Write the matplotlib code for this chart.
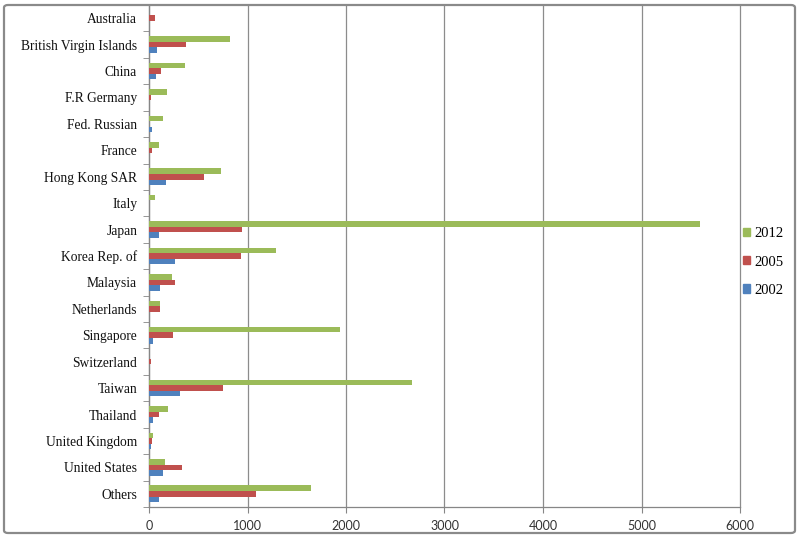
import matplotlib
matplotlib.use("Agg")
import matplotlib.pyplot as plt
import numpy as np
from matplotlib.patches import FancyBboxPatch, Patch
from matplotlib.ticker import FixedLocator

categories = ["Australia", "British Virgin Islands", "China", "F.R Germany",
              "Fed. Russian", "France", "Hong Kong SAR", "Italy", "Japan",
              "Korea Rep. of", "Malaysia", "Netherlands", "Singapore",
              "Switzerland", "Taiwan", "Thailand", "United Kingdom",
              "United States", "Others"]
v2002 = [0, 81, 71, 0, 30, 0, 176, 0, 105, 268, 112, 0, 41, 0, 312, 41, 20, 139, 98]
v2005 = [60, 376, 119, 20, 0, 30, 556, 0, 946, 929, 264, 113, 244, 24, 756, 105, 27, 336, 1085]
v2012 = [5, 824, 369, 187, 142, 105, 732, 61, 5595, 1289, 234, 113, 1943, 5, 2665, 196, 37, 163, 1645]
series_labels = ["2012", "2005", "2002"]
xticks = [0, 1000, 2000, 3000, 4000, 5000, 6000]

c2012 = "#9BBB59"
c2005 = "#C0504D"
c2002 = "#4F81BD"

fig = plt.figure(figsize=(8, 5.37), dpi=100)
ax = fig.add_axes([149/800, 1 - 507/537, 591/800, 502/537])

y = np.arange(len(categories))
h = 0.21
ax.barh(y - h, v2012, height=h, color=c2012, zorder=3)
ax.barh(y, v2005, height=h, color=c2005, zorder=3)
ax.barh(y + h, v2002, height=h, color=c2002, zorder=3)

ax.set_ylim(len(categories) - 0.5, -0.5)
ax.set_xlim(0, 6000)
ax.set_yticks(y)
ax.set_yticklabels(categories, fontfamily="Liberation Serif", fontsize=9.75, color="#111111")
ax.tick_params(axis="y", which="major", length=0, pad=8.5)
ax.yaxis.set_minor_locator(FixedLocator(np.arange(-0.5, len(categories), 1)))
ax.tick_params(axis="y", which="minor", length=4, color="#868686", direction="out")

ax.set_xticks(xticks)
ax.set_xticklabels([str(t) for t in xticks], fontfamily="Lato", fontsize=9, color="#333333")
ax.tick_params(axis="x", length=4, color="#868686", direction="out", pad=5)

ax.grid(axis="x", color="#8c8c8c", linewidth=0.9, zorder=0)
for gl in ax.get_xgridlines():
    gl.set_clip_on(False)
for s in ["top", "right"]:
    ax.spines[s].set_visible(False)
for s in ["left", "bottom"]:
    ax.spines[s].set_color("#868686")
    ax.spines[s].set_linewidth(0.9)

handles = [Patch(color=c2012), Patch(color=c2005), Patch(color=c2002)]
leg = fig.legend(handles, series_labels, loc="center left",
                 bbox_to_anchor=(730/800, 1 - 262/537), frameon=False,
                 handlelength=0.5, handleheight=0.5, handletextpad=0.3,
                 labelspacing=1.05, prop={"family": "Liberation Serif", "size": 10.5})

border = FancyBboxPatch((4/800, 4/537), 791/800, 528/537,
                        boxstyle="round,pad=0,rounding_size=0.005",
                        transform=fig.transFigure, fill=False,
                        edgecolor="#8a8a8a", linewidth=1.6)
fig.patches.append(border)

fig.savefig("out.png", dpi=100)
